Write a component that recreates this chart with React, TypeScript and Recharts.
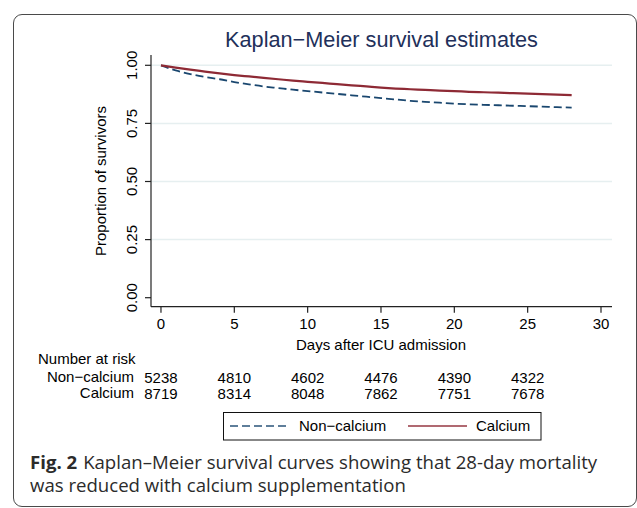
import { Line, LineChart, ReferenceLine, XAxis, YAxis } from "recharts";

const days = [0, 1, 2, 3, 4, 5, 6, 7, 8, 9, 10, 11, 12, 13, 14, 15, 16, 17, 18, 19, 20, 21, 22, 23, 24, 25, 26, 27, 28];
const calcium = [1, 0.99, 0.981, 0.973, 0.965, 0.958, 0.952, 0.946, 0.94, 0.934, 0.929, 0.924, 0.919, 0.914, 0.909, 0.904, 0.9, 0.897, 0.894, 0.891, 0.889, 0.886, 0.884, 0.882, 0.88, 0.878, 0.876, 0.874, 0.872];
const nonCalcium = [1, 0.978, 0.962, 0.95, 0.94, 0.928, 0.918, 0.909, 0.902, 0.895, 0.889, 0.883, 0.877, 0.871, 0.865, 0.859, 0.853, 0.847, 0.843, 0.839, 0.835, 0.832, 0.83, 0.828, 0.826, 0.824, 0.822, 0.82, 0.818];

const riskTimes = [0, 5, 10, 15, 20, 25];
const riskNonCalcium = [5238, 4810, 4602, 4476, 4390, 4322];
const riskCalcium = [8719, 8314, 8048, 7862, 7751, 7678];

const xTicks = [0, 5, 10, 15, 20, 25, 30];
const yTicks = [0, 0.25, 0.5, 0.75, 1];
const yLabels = ["0.00", "0.25", "0.50", "0.75", "1.00"];

const data = days.map((d, i) => ({ day: d, calcium: calcium[i], nonCalcium: nonCalcium[i] }));

const FONT = "'Liberation Sans', Arial, Helvetica, sans-serif";
const RED = "#8e2a35";
const BLUE = "#1a476f";

function XTick(props: any) {
  const { x, y, payload } = props;
  const k = riskTimes.indexOf(payload.value);
  return (
    <g fontFamily={FONT} fontSize={15} fill="#000" textAnchor="middle">
      <text x={x} y={y + 16}>{payload.value}</text>
      {k >= 0 && (
        <>
          <text x={x} y={y + 70}>{riskNonCalcium[k]}</text>
          <text x={x} y={y + 86}>{riskCalcium[k]}</text>
        </>
      )}
    </g>
  );
}

function YTick(props: any) {
  const { y, payload } = props;
  const i = yTicks.indexOf(payload.value);
  const cx = 131.7;
  return (
    <text
      x={cx}
      y={y}
      dy="0.36em"
      transform={`rotate(-90, ${cx}, ${y})`}
      textAnchor="middle"
      fontFamily={FONT}
      fontSize={15}
      fill="#000">
      {yLabels[i]}
    </text>
  );
}

export default function App() {
  return (
    <div style={{ position: "absolute", left: 0, top: 0, width: 637, height: 508, background: "#fff" }}>
      <div
        style={{
          position: "absolute",
          left: 13,
          top: 14,
          width: 622,
          height: 491,
          border: "1px solid #4a4a4a",
          borderRadius: 9,
        }}
      />
      <div style={{ position: "absolute", left: 0, top: 0 }}>
        <LineChart width={637} height={508} data={data} margin={{ top: 55, right: 25, bottom: 0, left: 0 }}>
          {yTicks
            .filter((v) => v > 0)
            .map((v) => (
              <ReferenceLine key={v} y={v} stroke="#e6eff0" strokeWidth={1.5} />
            ))}
          <XAxis
            dataKey="day"
            type="number"
            domain={[-0.68, 30.75]}
            ticks={xTicks}
            allowDataOverflow
            height={201.3}
            tickSize={6}
            tickMargin={0}
            interval={0}
            axisLine={{ stroke: "#222", strokeWidth: 1.2 }}
            tickLine={{ stroke: "#222", strokeWidth: 1.2 }}
            tick={<XTick />}
          />
          <YAxis
            type="number"
            domain={[-0.0387, 1.0443]}
            ticks={yTicks}
            allowDataOverflow
            width={151}
            tickSize={6}
            tickMargin={0}
            interval={0}
            axisLine={{ stroke: "#222", strokeWidth: 1.2 }}
            tickLine={{ stroke: "#222", strokeWidth: 1.2 }}
            tick={<YTick />}
          />
          <Line
            dataKey="nonCalcium"
            type="monotone"
            stroke={BLUE}
            strokeWidth={1.8}
            strokeDasharray="8 4"
            dot={false}
            isAnimationActive={false}
          />
          <Line
            dataKey="calcium"
            type="monotone"
            stroke={RED}
            strokeWidth={2.2}
            dot={false}
            isAnimationActive={false}
          />
        </LineChart>
      </div>
      <svg width={637} height={508} style={{ position: "absolute", left: 0, top: 0, pointerEvents: "none" }}>
        <text x={381.5} y={39} dy="0.36em" textAnchor="middle" fontFamily={FONT} fontSize={21.7} fill="#22305a">
          Kaplan−Meier survival estimates
        </text>
        <text
          x={100.7}
          y={181}
          dy="0.36em"
          transform="rotate(-90, 100.7, 181)"
          textAnchor="middle"
          fontFamily={FONT}
          fontSize={15}
          fill="#000">
          Proportion of survivors
        </text>
        <g fontFamily={FONT} fontSize={15} fill="#000">
          <text x={381} y={345} dy="0.36em" textAnchor="middle">Days after ICU admission</text>
          <text x={38} y={359} dy="0.36em">Number at risk</text>
          <text x={134} y={377} dy="0.36em" textAnchor="end">Non−calcium</text>
          <text x={134} y={393} dy="0.36em" textAnchor="end">Calcium</text>
        </g>
        <rect x={223.5} y={412.5} width={317.5} height={27.5} fill="#fff" stroke="#111" strokeWidth={1} />
        <line x1={230} y1={426} x2={289} y2={426} stroke={BLUE} strokeOpacity={0.7} strokeWidth={1.8} strokeDasharray="8 4" />
        <line x1={408} y1={426} x2={467} y2={426} stroke={RED} strokeOpacity={0.7} strokeWidth={2} />
        <g fontFamily={FONT} fontSize={15} fill="#000">
          <text x={299} y={426} dy="0.36em">Non−calcium</text>
          <text x={476} y={426} dy="0.36em">Calcium</text>
        </g>
        <g fontFamily="'Open Sans', 'Noto Sans', sans-serif" fontSize={18.6} fill="#2b2b2b">
          <text x={30} y={462} dy="0.36em">
            <tspan fontWeight={700}>Fig. 2</tspan>
            <tspan fontWeight={400} dx={6}>Kaplan–Meier survival curves showing that 28-day mortality</tspan>
          </text>
          <text x={30} y={485} dy="0.36em">was reduced with calcium supplementation</text>
        </g>
      </svg>
    </div>
  );
}
